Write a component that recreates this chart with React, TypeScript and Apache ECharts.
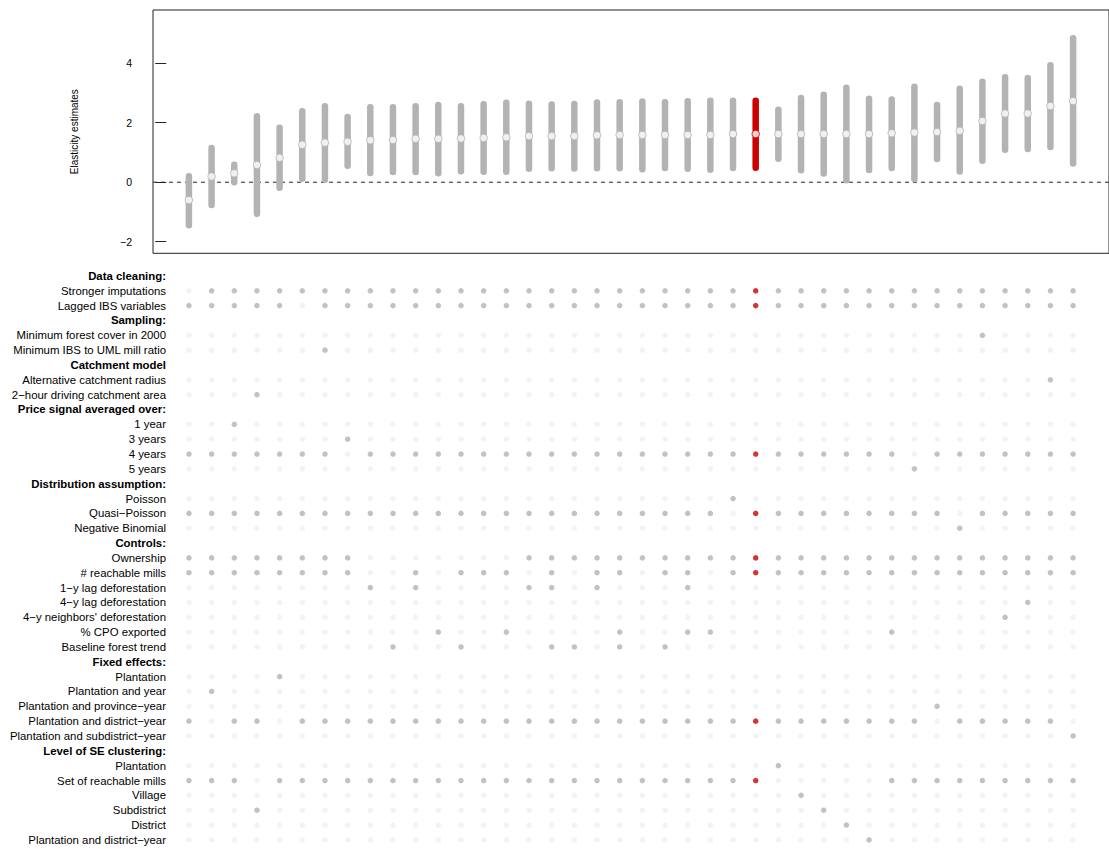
import React, { useEffect, useRef } from "react";
import * as echarts from "echarts";

// ---- Data ----
const estimates = [-0.60, 0.19, 0.30, 0.58, 0.82, 1.26, 1.33, 1.36, 1.41, 1.42, 1.46, 1.46, 1.47, 1.49, 1.51, 1.55, 1.55, 1.55, 1.58, 1.59, 1.59, 1.59, 1.59, 1.59, 1.62, 1.62, 1.62, 1.62, 1.62, 1.62, 1.62, 1.65, 1.67, 1.69, 1.73, 2.06, 2.31, 2.31, 2.56, 2.73];
const ciLow = [-1.45, -0.77, 0.0, -1.06, -0.19, 0.12, 0.08, 0.55, 0.31, 0.34, 0.34, 0.30, 0.37, 0.35, 0.35, 0.45, 0.47, 0.46, 0.47, 0.47, 0.44, 0.48, 0.45, 0.42, 0.48, 0.49, 0.79, 0.40, 0.29, 0.07, 0.41, 0.48, 0.11, 0.78, 0.36, 0.72, 1.09, 1.12, 1.18, 0.63];
const ciHigh = [0.20, 1.15, 0.59, 2.22, 1.83, 2.39, 2.55, 2.19, 2.52, 2.52, 2.55, 2.60, 2.55, 2.62, 2.67, 2.64, 2.61, 2.63, 2.68, 2.69, 2.71, 2.69, 2.72, 2.74, 2.74, 2.74, 2.44, 2.83, 2.94, 3.18, 2.81, 2.78, 3.21, 2.60, 3.14, 3.38, 3.53, 3.50, 3.93, 4.84];
const preferredSpec = 26;
const yTicks = [-2, 0, 2, 4];

const rowLabels = [
  "Data cleaning:", "Stronger imputations", "Lagged IBS variables",
  "Sampling:", "Minimum forest cover in 2000", "Minimum IBS to UML mill ratio",
  "Catchment model", "Alternative catchment radius", "2\u2212hour driving catchment area",
  "Price signal averaged over:", "1 year", "3 years", "4 years", "5 years",
  "Distribution assumption:", "Poisson", "Quasi\u2212Poisson", "Negative Binomial",
  "Controls:", "Ownership", "# reachable mills", "1\u2212y lag deforestation", "4\u2212y lag deforestation",
  "4\u2212y neighbors' deforestation", "% CPO exported", "Baseline forest trend",
  "Fixed effects:", "Plantation", "Plantation and year", "Plantation and province\u2212year",
  "Plantation and district\u2212year", "Plantation and subdistrict\u2212year",
  "Level of SE clustering:", "Plantation", "Set of reachable mills", "Village", "Subdistrict",
  "District", "Plantation and district\u2212year",
];
const headerRows = [0, 3, 6, 9, 14, 18, 26, 32];

// selection pattern per row (1 = option used in that specification), columns 1..40
const rowPatterns: (string | null)[] = [
  null,
  "0111111111 1111111111 1111111111 1111111111",
  "1111101111 1111111111 1111111111 1111111111",
  null,
  "0000000000 0000000000 0000000000 0000010000",
  "0000001000 0000000000 0000000000 0000000000",
  null,
  "0000000000 0000000000 0000000000 0000000010",
  "0001000000 0000000000 0000000000 0000000000",
  null,
  "0010000000 0000000000 0000000000 0000000000",
  "0000000100 0000000000 0000000000 0000000000",
  "1111111011 1111111111 1111111111 1101111111",
  "0000000000 0000000000 0000000000 0010000000",
  null,
  "0000000000 0000000000 0000100000 0000000000",
  "1111111111 1111111111 1111011111 1111011111",
  "0000000000 0000000000 0000000000 0000100000",
  null,
  "1111111100 0000011111 1111111111 1111111111",
  "1111111100 1011101011 0110111111 1111111111",
  "0000000010 1000011010 0010000000 0000000000",
  "0000000000 0000000000 0000000000 0000000100",
  "0000000000 0000000000 0000000000 0000001000",
  "0000000000 0100100001 0011000000 0100000000",
  "0000000001 0010001101 0100000000 0000000000",
  null,
  "0000100000 0000000000 0000000000 0000000000",
  "0100000000 0000000000 0000000000 0000000000",
  "0000000000 0000000000 0000000000 0001000000",
  "1011011111 1111111111 1111111111 1110111110",
  "0000000000 0000000000 0000000000 0000000001",
  null,
  "0000000000 0000000000 0000001000 0000000000",
  "1110111111 1111111111 1111110000 0111111111",
  "0000000000 0000000000 0000000100 0000000000",
  "0001000000 0000000000 0000000010 0000000000",
  "0000000000 0000000000 0000000001 0000000000",
  "0000000000 0000000000 0000000000 1000000000",
];

// ---- Styles / layout ----
const FONT = "'Liberation Sans', Arial, Helvetica, sans-serif";
const GREY = "#b3b3b3";
const LIGHT = "#f0f0f0";
const RED = "#cd0000";
const COL_PX = 22.73;
const TOP_LEFT = 153;
const BOT_LEFT = 172;
const X_MAX = 41.584;
const X_MIN_TOP = 1 - (189 - TOP_LEFT) / COL_PX;
const X_MIN_BOT = 1 - (189 - BOT_LEFT) / COL_PX;

function minusFmt(v: number) {
  return v < 0 ? "\u2212" + Math.abs(v) : String(v);
}

export default function App() {
  const ref = useRef<HTMLDivElement>(null);
  useEffect(() => {
    if (!ref.current) return;
    const chart = echarts.init(ref.current, undefined, { renderer: "svg" });

    const barData = estimates.map((e, i) => [i + 1, ciLow[i], ciHigh[i]]);
    const pointData = estimates.map((e, i) => ({
      value: [i + 1, e],
      itemStyle: { color: "#ffffff", borderColor: i + 1 === preferredSpec ? RED : GREY, borderWidth: 1 },
    }));

    const offDots: number[][] = [];
    const onDots: number[][] = [];
    const redDots: number[][] = [];
    rowPatterns.forEach((p, r) => {
      if (!p) return;
      const s = p.replace(/ /g, "");
      for (let c = 0; c < s.length; c++) {
        const pt = [c + 1, r];
        if (s[c] === "1") {
          if (c + 1 === preferredSpec) redDots.push(pt);
          else onDots.push(pt);
        } else offDots.push(pt);
      }
    });

    const option: any = {
      animation: false,
      textStyle: { fontFamily: FONT },
      grid: [
        {
          left: TOP_LEFT, top: 10, width: (X_MAX - X_MIN_TOP) * COL_PX, height: 243.3,
          show: true, borderColor: "#222", borderWidth: 1, backgroundColor: "transparent",
        },
        { left: BOT_LEFT, top: 268.5, width: (X_MAX - X_MIN_BOT) * COL_PX, height: 578.8 },
      ],
      xAxis: [
        { type: "value", gridIndex: 0, min: X_MIN_TOP, max: X_MAX, show: false },
        { type: "value", gridIndex: 1, min: X_MIN_BOT, max: X_MAX, show: false },
      ],
      yAxis: [
        {
          type: "value", gridIndex: 0, min: -2.39, max: 5.79,
          splitLine: { show: false },
          axisLine: { show: false },
          axisTick: { show: true, length: 11, customValues: yTicks, lineStyle: { color: "#222", width: 1 } },
          axisLabel: { customValues: yTicks, margin: 21, fontSize: 10.5, color: "#000", fontFamily: FONT, formatter: (v: number) => minusFmt(v) },
          name: "Elasticity estimates", nameLocation: "middle", nameGap: 74,
          nameTextStyle: { fontSize: 10, color: "#000", fontFamily: FONT },
        },
        {
          type: "category", gridIndex: 1, inverse: true, data: rowLabels,
          axisLine: { show: false }, axisTick: { show: false }, splitLine: { show: false },
          axisLabel: {
            interval: 0, margin: 6, fontSize: 11.4, color: "#000", fontFamily: FONT,
            formatter: (v: string, idx: number) => (headerRows.includes(idx) ? `{h|${v}}` : v),
            rich: { h: { fontWeight: "bold", fontSize: 11.4, color: "#000", fontFamily: FONT } },
          },
        },
      ],
      series: [
        {
          type: "line", xAxisIndex: 0, yAxisIndex: 0, silent: true, symbol: "none", z: 1,
          data: [[X_MIN_TOP, 0], [X_MAX, 0]],
          lineStyle: { type: [4, 4], color: "#222", width: 1 },
        },
        {
          type: "custom", xAxisIndex: 0, yAxisIndex: 0, z: 2, silent: true,
          data: barData,
          encode: { x: 0, y: [1, 2] },
          renderItem: (params: any, api: any) => {
            const x = api.value(0);
            const p1 = api.coord([x, api.value(1)]);
            const p2 = api.coord([x, api.value(2)]);
            return {
              type: "line",
              shape: { x1: p1[0], y1: p1[1], x2: p2[0], y2: p2[1] },
              style: { stroke: x === preferredSpec ? RED : GREY, lineWidth: 6.5, lineCap: "round" },
            };
          },
        },
        {
          type: "scatter", xAxisIndex: 0, yAxisIndex: 0, z: 3, silent: true,
          symbol: "circle", symbolSize: 7.5, data: pointData,
        },
        {
          type: "scatter", xAxisIndex: 1, yAxisIndex: 1, silent: true,
          symbol: "circle", symbolSize: 5.5, data: offDots, itemStyle: { color: LIGHT },
        },
        {
          type: "scatter", xAxisIndex: 1, yAxisIndex: 1, silent: true,
          symbol: "circle", symbolSize: 5.5, data: onDots, itemStyle: { color: GREY },
        },
        {
          type: "scatter", xAxisIndex: 1, yAxisIndex: 1, silent: true,
          symbol: "circle", symbolSize: 5.5, data: redDots, itemStyle: { color: RED },
        },
      ],
    };
    chart.setOption(option);
    return () => chart.dispose();
  }, []);

  return (
    <div
      ref={ref}
      style={{ position: "absolute", left: 0, top: 0, width: 1109, height: 849, background: "#fff" }}
    />
  );
}
